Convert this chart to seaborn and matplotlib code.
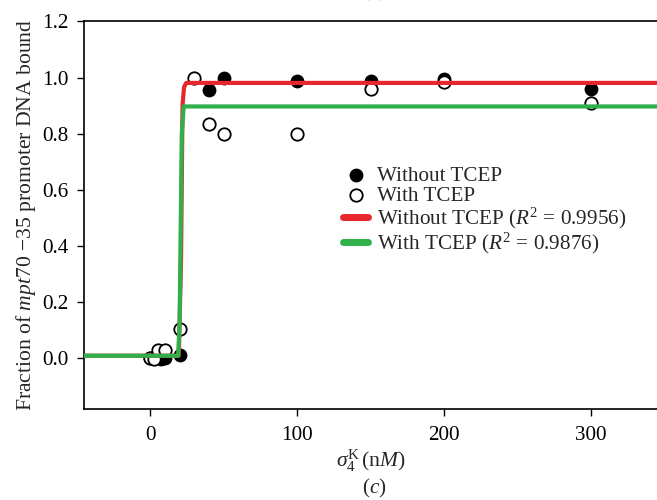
import matplotlib
matplotlib.use("Agg")
import matplotlib.pyplot as plt
import seaborn as sns
import pandas as pd

# ---- data ----
conc_without = [0, 5, 7.5, 10, 20, 40, 50, 100, 150, 200, 300]
frac_without = [0.0, 0.0, -0.005, 0.0, 0.012, 0.955, 1.0, 0.987, 0.987, 0.996, 0.958]

conc_with = [0, 2.5, 5, 10, 20, 30, 40, 50, 100, 150, 200, 300]
frac_with = [0.0, -0.003, 0.03, 0.03, 0.103, 1.0, 0.836, 0.80, 0.798, 0.958, 0.985, 0.91]

fit_without_x = [-45, 19.5, 21.0, 22.0, 23.0, 24.5, 345]
fit_without_y = [0.008, 0.008, 0.35, 0.90, 0.965, 0.981, 0.981]
fit_with_x = [-45, 19.0, 20.0, 21.5, 22.8, 345]
fit_with_y = [0.008, 0.008, 0.12, 0.80, 0.897, 0.897]

xticks = [0, 100, 200, 300]
yticks = [0.0, 0.2, 0.4, 0.6, 0.8, 1.0, 1.2]

lbl_pts_without = "Without TCEP"
lbl_pts_with = "With TCEP"
lbl_fit_without = r"Without TCEP ($R^2$ = 0.9956)"
lbl_fit_with = r"With TCEP ($R^2$ = 0.9876)"

RED = "#e8262c"
GREEN = "#2fb04a"

sns.set_theme(style="ticks")
plt.rcParams["font.family"] = ["Liberation Serif", "DejaVu Serif"]
plt.rcParams["mathtext.fontset"] = "custom"
plt.rcParams["mathtext.rm"] = "Liberation Serif"
plt.rcParams["mathtext.it"] = "Liberation Serif:italic"
plt.rcParams["mathtext.bf"] = "Liberation Serif:bold"
plt.rcParams["axes.unicode_minus"] = False

FS = 15.2

fig = plt.figure(figsize=(6.57, 5.0), dpi=100)
ax = fig.add_axes([0.128, 0.182, 0.872, 0.775])

df_wo = pd.DataFrame({"x": conc_without, "y": frac_without})
df_w = pd.DataFrame({"x": conc_with, "y": frac_with})
fit_wo = pd.DataFrame({"x": fit_without_x, "y": fit_without_y})
fit_w = pd.DataFrame({"x": fit_with_x, "y": fit_with_y})

sns.scatterplot(data=df_wo, x="x", y="y", ax=ax, marker="o", s=80,
                color="black", edgecolor="black", linewidth=1.0,
                label=lbl_pts_without, zorder=2)
sns.scatterplot(data=df_w, x="x", y="y", ax=ax, marker="o", s=80,
                facecolor="white", edgecolor="black", linewidth=1.3,
                label=lbl_pts_with, zorder=2)
sns.lineplot(data=fit_wo, x="x", y="y", ax=ax, color=RED, linewidth=3.0,
             label=lbl_fit_without, zorder=3, estimator=None, sort=False)
sns.lineplot(data=fit_w, x="x", y="y", ax=ax, color=GREEN, linewidth=3.0,
             label=lbl_fit_with, zorder=4, estimator=None, sort=False)

ax.set_xlim(-45, 345)
ax.set_ylim(-0.182, 1.2)
ax.set_xticks(xticks)
ax.set_yticks(yticks)
ax.set_xticklabels([str(t) for t in xticks])
ax.set_yticklabels([f"{t:.1f}" for t in yticks])
ax.tick_params(axis="both", direction="out", length=5, width=1.0,
               labelsize=FS, colors="black", pad=6)
ax.tick_params(axis="x", pad=7)
for side in ["left", "bottom", "top"]:
    ax.spines[side].set_visible(True)
    ax.spines[side].set_color("black")
    ax.spines[side].set_linewidth(1.2)
ax.spines["right"].set_visible(False)

ax.set_ylabel("Fraction of $\\it{mpt70}$ \u221235 promoter DNA bound",
              fontsize=FS + 0.4, labelpad=3)
ax.set_xlabel(r"$\sigma_4^{\mathrm{K}}\,(\mathrm{n}M)$", fontsize=FS + 0.4, labelpad=2)

handles, labels = ax.get_legend_handles_labels()
leg = ax.legend(handles, labels, loc="upper left",
                bbox_to_anchor=(0.522, 0.668), bbox_transform=fig.transFigure,
                frameon=False, fontsize=FS, handlelength=1.2,
                handletextpad=0.4, labelspacing=0.0, borderpad=0,
                borderaxespad=0, markerscale=1.0)
for h in leg.legend_handles:
    if hasattr(h, "set_linewidth") and not hasattr(h, "get_offsets"):
        h.set_linewidth(5)

fig.text(0.569, 0.024, "($\\it{c}$)", ha="center", va="center", fontsize=FS)
fig.text(0.569, 1.018, "($\\it{c}$)", ha="center", va="center", fontsize=FS)

fig.savefig("out.png", dpi=100)
